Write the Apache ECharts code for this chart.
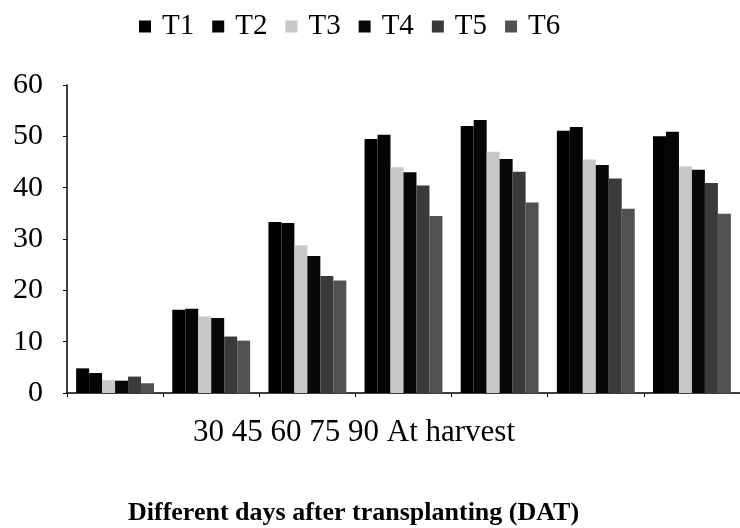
<!DOCTYPE html>
<html>
<head>
<meta charset="utf-8">
<script src="https://cdn.jsdelivr.net/npm/echarts@6/dist/echarts.min.js"></script>
<style>html,body{margin:0;padding:0;background:#fff}#c{width:740px;height:528px}</style>
</head>
<body>
<div id="c"></div>
<script>
var categories = ['G1', 'G2', 'G3', 'G4', 'G5', 'G6', 'G7'];
var seriesNames = ['T1', 'T2', 'T3', 'T4', 'T5', 'T6'];
var T1 = [4.8, 16.2, 33.3, 49.5, 52.0, 51.1, 50.0];
var T2 = [3.9, 16.4, 33.1, 50.3, 53.2, 51.8, 50.9];
var T3 = [2.5, 14.9, 28.8, 44.0, 47.0, 45.5, 44.1];
var T4 = [2.4, 14.6, 26.7, 43.0, 45.6, 44.4, 43.5];
var T5 = [3.2, 11.0, 22.8, 40.4, 43.1, 41.8, 40.9];
var T6 = [1.9, 10.2, 21.9, 34.5, 37.1, 35.9, 34.9];
var xTickText = '30 45 60 75 90 At harvest';
var xTitle = 'Different days after transplanting (DAT)';
var yTicks = [0, 10, 20, 30, 40, 50, 60];

var values = [T1, T2, T3, T4, T5, T6];
var colors = ['#000000', '#050505', '#c8c8c8', '#080808', '#3a3a3a', '#525252'];
var font = 'Liberation Serif';

var chart = echarts.init(document.getElementById('c'));
chart.setOption({
  animation: false,
  backgroundColor: '#ffffff',
  title: [
    { text: xTickText, left: 188, top: 412, textStyle: { fontFamily: font, fontSize: 31, fontWeight: 'normal', color: '#000' } },
    { text: xTitle, left: 123, top: 495, textStyle: { fontFamily: font, fontSize: 26, fontWeight: 'bold', color: '#000' } }
  ],
  legend: {
    data: seriesNames,
    left: 134, top: 7,
    icon: 'rect', itemWidth: 12, itemHeight: 12, itemGap: 18,
    textStyle: { fontFamily: font, fontSize: 29, color: '#000', padding: [0, 0, 0, 6] }
  },
  grid: { left: 67, top: 85, width: 679, height: 308, containLabel: false },
  xAxis: {
    type: 'category',
    data: categories,
    axisLine: { lineStyle: { color: '#000', width: 1.5 } },
    axisTick: { show: true, length: 4, lineStyle: { color: '#000' } },
    axisLabel: { show: false }
  },
  yAxis: {
    type: 'value', min: yTicks[0], max: yTicks[yTicks.length - 1], interval: 10,
    axisLine: { show: true, lineStyle: { color: '#000', width: 1.5 } },
    axisTick: { show: true, inside: false, length: 4, lineStyle: { color: '#000' } },
    splitLine: { show: false },
    axisLabel: { fontFamily: font, fontSize: 30, color: '#000', margin: 24 }
  },
  series: seriesNames.map(function (n, i) {
    return {
      name: n, type: 'bar', data: values[i],
      barGap: '0%', barCategoryGap: '19%',
      itemStyle: { color: colors[i] }
    };
  })
});
</script>
</body>
</html>
